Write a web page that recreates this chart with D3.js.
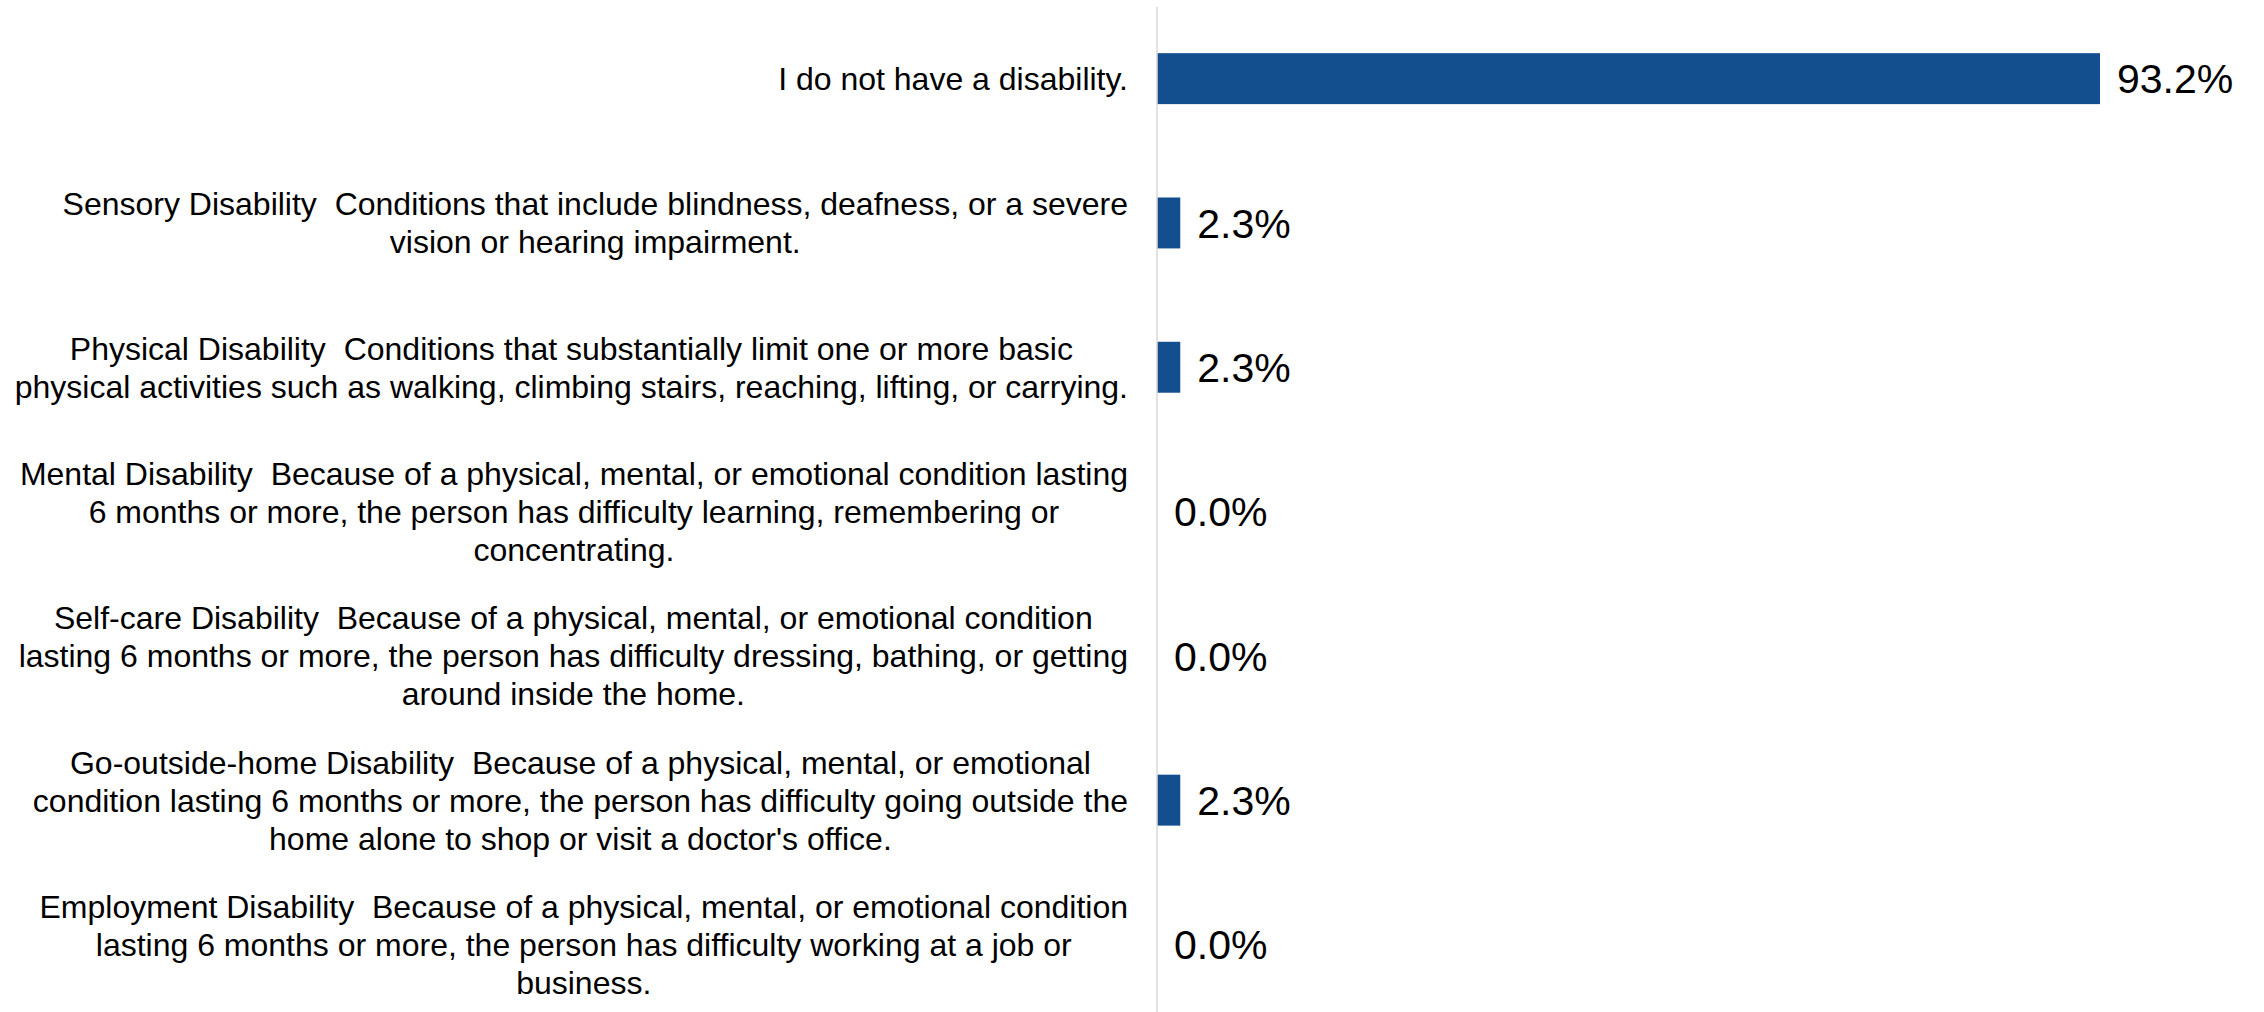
<!DOCTYPE html>
<html>
<head>
<meta charset="utf-8">
<script src="https://cdn.jsdelivr.net/npm/d3@7"></script>
<style>
  body { margin: 0; background: #fff; }
  text { font-family: "Liberation Sans", Arial, sans-serif; }
</style>
</head>
<body>
<div id="chart"></div>
<script>
// Chart size
var w = 2264;
var h = 1012;

// Data (lines of each label split with \n)
var categories = [
    "I do not have a disability.",
    "Sensory Disability  Conditions that include blindness, deafness, or a severe\nvision or hearing impairment.",
    "Physical Disability  Conditions that substantially limit one or more basic\nphysical activities such as walking, climbing stairs, reaching, lifting, or carrying.",
    "Mental Disability  Because of a physical, mental, or emotional condition lasting\n6 months or more, the person has difficulty learning, remembering or\nconcentrating.",
    "Self-care Disability  Because of a physical, mental, or emotional condition\nlasting 6 months or more, the person has difficulty dressing, bathing, or getting\naround inside the home.",
    "Go-outside-home Disability  Because of a physical, mental, or emotional\ncondition lasting 6 months or more, the person has difficulty going outside the\nhome alone to shop or visit a doctor's office.",
    "Employment Disability  Because of a physical, mental, or emotional condition\nlasting 6 months or more, the person has difficulty working at a job or\nbusiness."
];
var values = [93.2, 2.3, 2.3, 0.0, 0.0, 2.3, 0.0];

var axisX = 1157;
var labelRight = 1128;
var barColor = "#134e8f";

var svg = d3.select("#chart")
    .append("svg")
    .attr("width", w)
    .attr("height", h);

// Scales
var xScale = d3.scaleLinear()
    .domain([0, 93.2])
    .range([axisX, 2100]);

var yScale = d3.scaleBand()
    .domain(d3.range(categories.length))
    .range([6.5, 1016.6])
    .paddingInner(0.647)
    .paddingOuter(0.3235);

// Bars
svg.selectAll("rect.bar")
    .data(values)
    .enter()
    .append("rect")
    .attr("class", "bar")
    .attr("x", xScale(0))
    .attr("y", function(d, i) { return yScale(i); })
    .attr("width", function(d) { return xScale(d) - xScale(0); })
    .attr("height", yScale.bandwidth())
    .attr("fill", barColor);

// Vertical axis line
svg.append("line")
    .attr("x1", axisX)
    .attr("x2", axisX)
    .attr("y1", 7)
    .attr("y2", h)
    .attr("stroke", "#d9d9d9")
    .attr("stroke-width", 1.5);

// Value labels
svg.selectAll("text.value")
    .data(values)
    .enter()
    .append("text")
    .attr("class", "value")
    .attr("x", function(d) { return xScale(d) + 17; })
    .attr("y", function(d, i) { return yScale(i) + yScale.bandwidth() / 2; })
    .attr("dy", "0.36em")
    .attr("font-size", "41px")
    .attr("fill", "#000")
    .text(function(d) { return d.toFixed(1) + "%"; });

// Category labels: block right-aligned to the axis, lines centered in the block
var lineH = 38;
var cats = svg.selectAll("g.cat")
    .data(categories)
    .enter()
    .append("g")
    .attr("class", "cat");

cats.each(function(d, i) {
    var g = d3.select(this);
    var lines = d.split("\n");
    var texts = lines.map(function(line, k) {
        return g.append("text")
            .attr("font-size", "32px")
            .attr("fill", "#000")
            .attr("xml:space", "preserve")
            .style("white-space", "pre")
            .attr("text-anchor", "middle")
            .attr("y", yScale(i) + yScale.bandwidth() / 2 + (k - (lines.length - 1) / 2) * lineH)
            .attr("dy", "0.36em")
            .text(line);
    });
    var blockW = d3.max(texts, function(t) { return t.node().getComputedTextLength(); });
    texts.forEach(function(t) { t.attr("x", labelRight - blockW / 2); });
});
</script>
</body>
</html>
